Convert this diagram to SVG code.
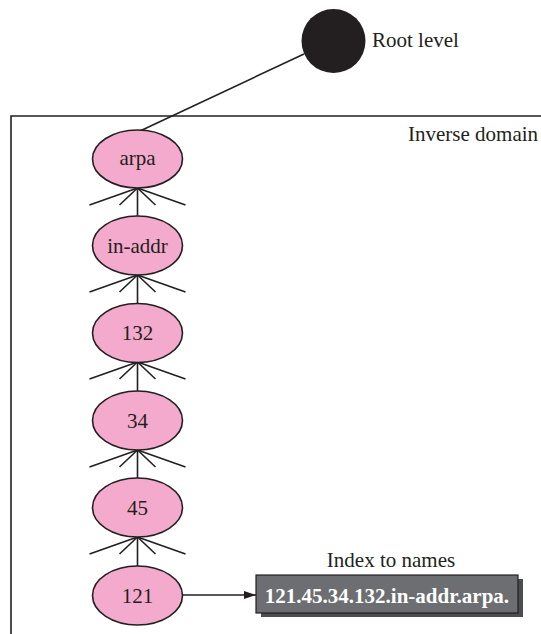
<svg xmlns="http://www.w3.org/2000/svg" width="541" height="634" viewBox="0 0 541 634">
<defs>
<style>
.node{fill:#f4aacd;stroke:#231f20;stroke-width:1.6}
.ln{stroke:#231f20;stroke-width:1.6;fill:none}
.lbl{font-family:"Liberation Serif",serif;font-size:21px;fill:#231f20;text-anchor:middle}
.txt{font-family:"Liberation Serif",serif;font-size:21px;fill:#231f20}
</style>
<marker id="ah" markerWidth="12" markerHeight="8" refX="12" refY="4" orient="auto" markerUnits="userSpaceOnUse">
<path d="M0,0 L12,4 L0,8 Z" fill="#231f20"/>
</marker>
<g id="fan" class="ln">
<line x1="0" y1="0" x2="-48" y2="17"/>
<line x1="0" y1="0" x2="-18" y2="17"/>
<line x1="0" y1="0" x2="18" y2="17"/>
<line x1="0" y1="0" x2="48" y2="17"/>
</g>
</defs>
<rect width="541" height="634" fill="#fff"/>
<g id="domain">
<path class="ln" d="M11,634 V116 H541"/>
<text class="txt" x="408" y="141">Inverse domain</text>
</g>
<g id="connectors">
<line class="ln" x1="140" y1="131" x2="304" y2="54"/>
<use href="#fan" x="137.5" y="188"/>
<use href="#fan" x="137.5" y="275"/>
<use href="#fan" x="137.5" y="362"/>
<use href="#fan" x="137.5" y="450"/>
<use href="#fan" x="137.5" y="537"/>
<line class="ln" x1="137.5" y1="188" x2="137.5" y2="216"/>
<line class="ln" x1="137.5" y1="275" x2="137.5" y2="304"/>
<line class="ln" x1="137.5" y1="362" x2="137.5" y2="391"/>
<line class="ln" x1="137.5" y1="450" x2="137.5" y2="478"/>
<line class="ln" x1="137.5" y1="537" x2="137.5" y2="566"/>
<line class="ln" x1="183" y1="595" x2="256" y2="595" marker-end="url(#ah)"/>
</g>
<g id="root">
<circle cx="333.5" cy="41" r="32" fill="#231f20"/>
<text class="txt" x="372" y="47">Root level</text>
</g>
<g id="n-arpa"><ellipse class="node" cx="137.5" cy="159" rx="45" ry="29"/><text class="lbl" x="137.5" y="165">arpa</text></g>
<g id="n-inaddr"><ellipse class="node" cx="137.5" cy="245.5" rx="45" ry="29.5"/><text class="lbl" x="137.5" y="253">in-addr</text></g>
<g id="n-132"><ellipse class="node" cx="137.5" cy="333" rx="45" ry="29.5"/><text class="lbl" x="137.5" y="340">132</text></g>
<g id="n-34"><ellipse class="node" cx="137.5" cy="420.5" rx="45" ry="29.5"/><text class="lbl" x="137.5" y="427.5">34</text></g>
<g id="n-45"><ellipse class="node" cx="137.5" cy="507.5" rx="45" ry="29.5"/><text class="lbl" x="137.5" y="514.5">45</text></g>
<g id="n-121"><ellipse class="node" cx="137.5" cy="595.5" rx="45" ry="29.5"/><text class="lbl" x="137.5" y="603">121</text></g>
<g id="index">
<text class="lbl" x="391" y="567">Index to names</text>
<rect x="261" y="579" width="262" height="38" fill="#4d4d4f"/>
<rect x="256" y="575" width="262" height="38" fill="#6d6e71" stroke="#231f20" stroke-width="1.2"/>
<text x="387" y="603" font-family="Liberation Serif,serif" font-size="21" font-weight="bold" fill="#fff" text-anchor="middle">121.45.34.132.in-addr.arpa.</text>
</g>
</svg>
